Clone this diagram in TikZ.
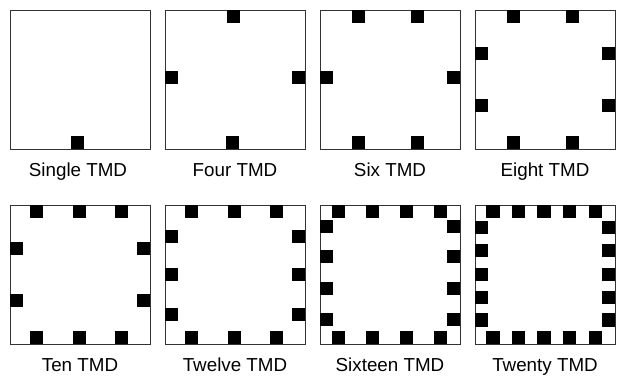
\documentclass[tikz,border=0pt]{standalone}
\usepackage{fontspec}
\setmainfont{Liberation Sans}
\usepackage{tikz}
\usetikzlibrary{calc}

% masses sitting on the inner side of each wall (offset measured from the panel corner)
\newcommand{\topmass}[2]{\fill ($(#1.north west)+(#2pt-6.75pt,0)$) rectangle ++(13.5pt,-13.5pt);}
\newcommand{\botmass}[2]{\fill ($(#1.south west)+(#2pt-6.75pt,0)$) rectangle ++(13.5pt,13.5pt);}
\newcommand{\leftmass}[2]{\fill ($(#1.north west)+(0,-#2pt+6.75pt)$) rectangle ++(13.5pt,-13.5pt);}
\newcommand{\rightmass}[2]{\fill ($(#1.north east)+(0,-#2pt+6.75pt)$) rectangle ++(-13.5pt,-13.5pt);}

\begin{document}
\begin{tikzpicture}[
x=1pt, y=-1pt,
panel/.style={rectangle, draw=black!80, line width=0.9pt, minimum width=140pt, minimum height=139pt, inner sep=0pt},
caption/.style={anchor=base, inner sep=0pt, font=\fontsize{18.8}{20}\selectfont}
]
\useasboundingbox[fill=white] (0,0) rectangle (619,377);

% --- Row 1 ---
\node (p1) [panel] at (80,79.5) {};
\node (p2) [panel] at (235,79.5) {};
\node (p3) [panel] at (390,79.5) {};
\node (p4) [panel] at (545,79.5) {};
\node (c1) [caption] at (78,176.5) {Single TMD};
\node (c2) [caption] at (235,176.5) {Four TMD};
\node (c3) [caption] at (390,176.5) {Six TMD};
\node (c4) [caption] at (545,176.5) {Eight TMD};

% --- Row 2 ---
\node (p5) [panel] at (80,274.5) {};
\node (p6) [panel] at (235,274.5) {};
\node (p7) [panel] at (390,274.5) {};
\node (p8) [panel] at (545,274.5) {};
\node (c5) [caption] at (80,371.5) {Ten TMD};
\node (c6) [caption] at (235,371.5) {Twelve TMD};
\node (c7) [caption] at (390,371.5) {Sixteen TMD};
\node (c8) [caption] at (545,371.5) {Twenty TMD};

% --- Single, Four ---
\botmass{p1}{68}
\topmass{p2}{69} \botmass{p2}{68} \leftmass{p2}{68} \rightmass{p2}{68}

% --- Six, Eight ---
\foreach \s in {39,98} {\topmass{p3}{\s} \botmass{p3}{\s}}
\leftmass{p3}{68} \rightmass{p3}{68}
\foreach \s in {39,98} {\topmass{p4}{\s} \botmass{p4}{\s}}
\foreach \s in {44,96} {\leftmass{p4}{\s} \rightmass{p4}{\s}}

% --- Ten, Twelve ---
\foreach \s in {27,70,112} {\topmass{p5}{\s} \botmass{p5}{\s}}
\foreach \s in {44,96} {\leftmass{p5}{\s} \rightmass{p5}{\s}}
\foreach \s in {27,70,112} {\topmass{p6}{\s} \botmass{p6}{\s}}
\foreach \s in {32,70,110} {\leftmass{p6}{\s} \rightmass{p6}{\s}}

% --- Sixteen, Twenty ---
\foreach \s in {19,53,87,121} {\topmass{p7}{\s} \botmass{p7}{\s}}
\foreach \s in {22,52,84,115} {\leftmass{p7}{\s} \rightmass{p7}{\s}}
\foreach \s in {18.5,44,69.5,95,121} {\topmass{p8}{\s} \botmass{p8}{\s}}
\foreach \s in {23,46,70,93,115.5} {\leftmass{p8}{\s} \rightmass{p8}{\s}}

\end{tikzpicture}
\end{document}
